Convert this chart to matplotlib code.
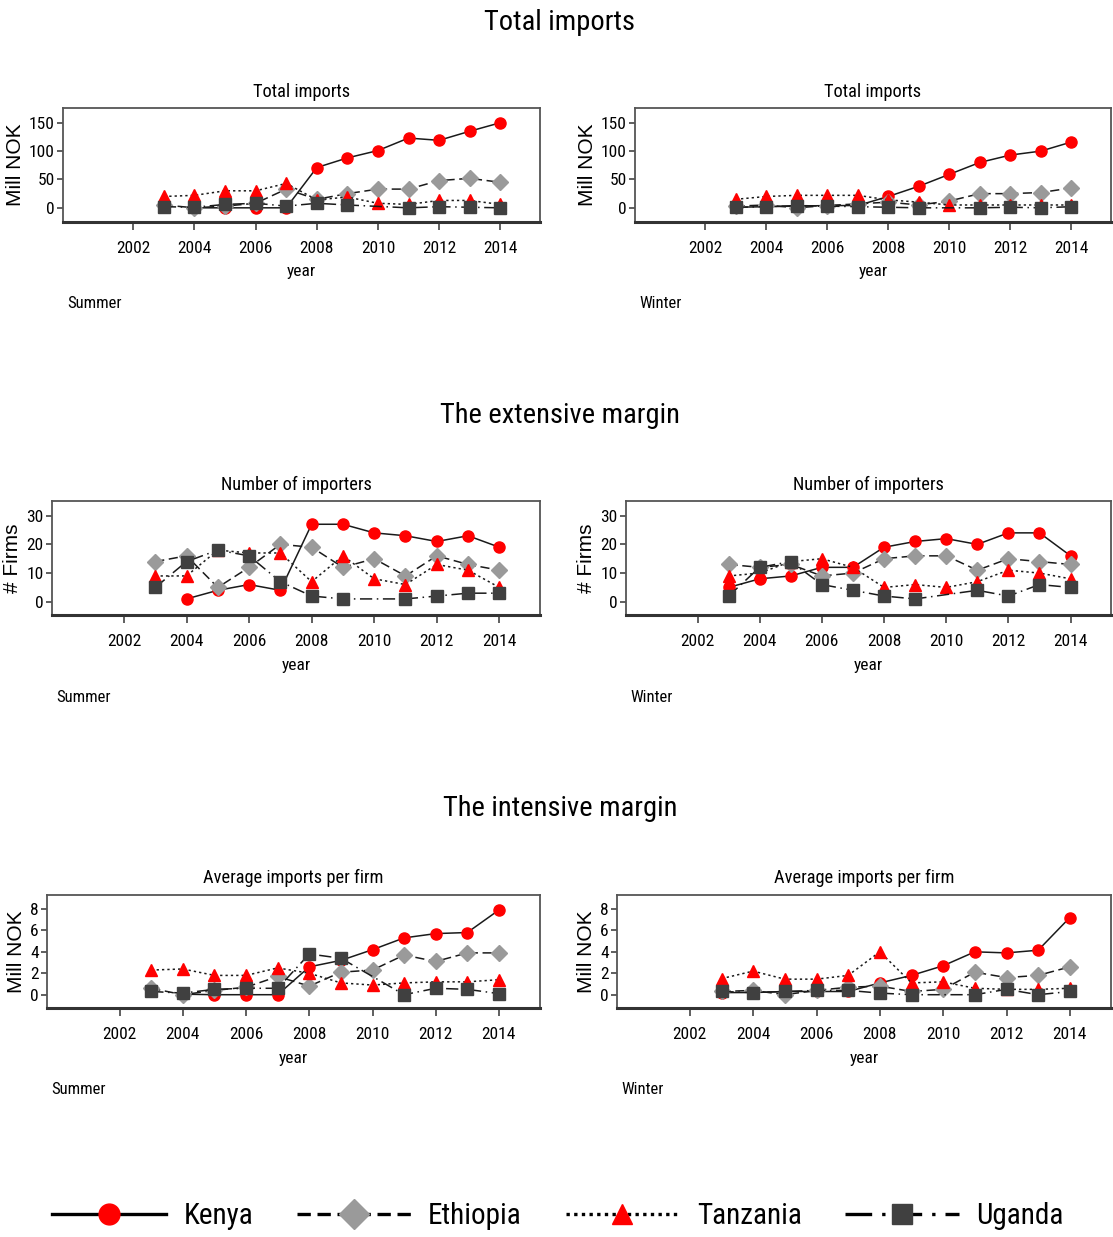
import numpy as np
import matplotlib
matplotlib.use('Agg')
import matplotlib.pyplot as plt
from matplotlib.lines import Line2D
from matplotlib import font_manager as fm

nan = np.nan
years = list(range(2003, 2015))

# Total imports (Mill NOK)
tot_summer = {
    'Kenya':    [nan, 0, 0, 0, 0, 71, 88, 101, 123, 119, 135, 150],
    'Ethiopia': [5, 0, 3, 8, 33, 15, 25, 33, 33, 48, 52, 45],
    'Tanzania': [20, 22, 30, 30, 43, 14, 19, 8, 6, 13, 13, 6],
    'Uganda':   [2, 1, 6, 8, 3, 8, 5, nan, 0, 2, 1, 0],
}
tot_winter = {
    'Kenya':    [1, 2, 3, 4, 4, 20, 38, 59, 80, 93, 100, 116],
    'Ethiopia': [3, 5, 0, 4, 7, 10, 5, 12, 25, 25, 27, 35],
    'Tanzania': [15, 20, 22, 22, 22, 14, 10, 5, 5, 5, 5, 5],
    'Uganda':   [1, 2, 4, 3, 2, 1, 0, nan, 0, 1, 0, 2],
}
# Number of importers (# firms)
firms_summer = {
    'Kenya':    [nan, 1, 4, 6, 4, 27, 27, 24, 23, 21, 23, 19],
    'Ethiopia': [14, 16, 5, 12, 20, 19, 12, 15, 9, 16, 13, 11],
    'Tanzania': [9, 9, 18, 17, 17, 7, 16, 8, 6, 13, 11, 5],
    'Uganda':   [5, 14, 18, 16, 7, 2, 1, nan, 1, 2, 3, 3],
}
firms_winter = {
    'Kenya':    [5, 8, 9, 12, 12, 19, 21, 22, 20, 24, 24, 16],
    'Ethiopia': [13, 12, 13, 9, 10, 15, 16, 16, 11, 15, 14, 13],
    'Tanzania': [9, 10, 14, 15, 12, 5, 6, 5, 7, 11, 10, 8],
    'Uganda':   [2, 12, 14, 6, 4, 2, 1, nan, 4, 2, 6, 5],
}
# Average imports per firm (Mill NOK)
avg_summer = {
    'Kenya':    [nan, 0.05, 0, 0, 0, 2.6, 3.2, 4.2, 5.3, 5.7, 5.8, 7.9],
    'Ethiopia': [0.6, 0, 0.4, 0.7, 1.7, 0.8, 2.1, 2.3, 3.7, 3.1, 3.9, 3.9],
    'Tanzania': [2.3, 2.4, 1.8, 1.8, 2.5, 2.0, 1.1, 0.9, 1.1, 1.2, 1.2, 1.4],
    'Uganda':   [0.3, 0.15, 0.5, 0.6, 0.6, 3.8, 3.4, nan, 0, 0.6, 0.5, 0.1],
}
avg_winter = {
    'Kenya':    [0.2, 0.2, 0.3, 0.3, 0.3, 1.1, 1.8, 2.7, 4.0, 3.9, 4.15, 7.2],
    'Ethiopia': [0.3, 0.4, 0, 0.4, 0.7, 0.8, 0.3, 0.5, 2.1, 1.6, 1.8, 2.6],
    'Tanzania': [1.5, 2.2, 1.45, 1.45, 1.8, 4.0, 1.1, 1.2, 0.6, 0.5, 0.5, 0.6],
    'Uganda':   [0.3, 0.2, 0.3, 0.4, 0.4, 0.15, 0, nan, 0, 0.5, 0, 0.3],
}

countries = ['Kenya', 'Ethiopia', 'Tanzania', 'Uganda']
styles = {
    'Kenya':    dict(marker='o', mfc='#ff0000', ms=8, dashes=()),
    'Ethiopia': dict(marker='D', mfc='#9a9a9a', ms=8, dashes=(6, 3)),
    'Tanzania': dict(marker='^', mfc='#ff0000', ms=8, dashes=(1.5, 2)),
    'Uganda':   dict(marker='s', mfc='#404040', ms=8, dashes=(8, 3, 1, 3)),
}

# pick a narrow face if one is installed (Stata output uses Arial Narrow-ish text)
narrow_family, narrow_stretch, scale = None, 'normal', 1.0
names = {f.name for f in fm.fontManager.ttflist}
for cand in ['Liberation Sans Narrow', 'Arial Narrow', 'Roboto Condensed',
             'Open Sans Condensed', 'DejaVu Sans Condensed', 'Noto Sans Condensed']:
    if cand in names:
        narrow_family = cand
        break
if narrow_family is None:
    for f in fm.fontManager.ttflist:
        if f.stretch in ('condensed', 'semi-condensed', 'extra-condensed') and 'Sans' in f.name:
            narrow_family, narrow_stretch = f.name, f.stretch
            break
if narrow_family is None:
    narrow_family, scale = 'Liberation Sans', 0.85

plt.rcParams['font.family'] = [narrow_family, 'DejaVu Sans']
plt.rcParams['font.stretch'] = narrow_stretch

def fs(v):
    return v * scale

W, H = 1113, 1237
fig = plt.figure(figsize=(W / 100, H / 100), dpi=100)

def px_box(l, t, r, b):
    return [l / W, 1 - b / H, (r - l) / W, (b - t) / H]

def panel(box, data, yticks, ylim, ylabel, title, season, title_y, year_y, season_y):
    ax = fig.add_axes(px_box(*box))
    for c in countries:
        x = np.array(years, dtype=float)
        y = np.array(data[c], dtype=float)
        ok = ~np.isnan(y)
        st = styles[c]
        ls = '-' if not st['dashes'] else (0, st['dashes'])
        ax.plot(x[ok], y[ok], color='#1a1a1a', lw=1.1, linestyle=ls,
                marker=st['marker'], ms=st['ms'], mfc=st['mfc'], mec=st['mfc'])
    ax.set_xlim(1999.7, 2015.3)
    ax.set_ylim(*ylim)
    ax.set_xticks(range(2002, 2015, 2))
    ax.set_yticks(yticks)
    ax.tick_params(axis='x', length=6, width=1.2, pad=8, labelsize=fs(12.5), color='#444444')
    ax.tick_params(axis='y', length=4, width=1.2, pad=2, labelsize=fs(12.5), color='#444444')
    for s in ax.spines.values():
        s.set_color('#555555')
        s.set_linewidth(1.3)
    ax.spines['bottom'].set_linewidth(2.2)
    ax.spines['bottom'].set_color('#333333')
    ax.set_ylabel(ylabel, family=['Liberation Sans', 'DejaVu Sans'], fontstretch='normal',
                  fontsize=15, labelpad=3)
    cx = (box[0] + box[2]) / 2
    fig.text(cx / W, 1 - title_y / H, title, ha='center', va='center', fontsize=fs(13.2))
    fig.text(cx / W, 1 - year_y / H, 'year', ha='center', va='center', fontsize=fs(12.5))
    fig.text((box[0] + 4) / W, 1 - season_y / H, season, ha='left', va='center', fontsize=fs(12))
    return ax

# Row 1: total imports
fig.text(560 / W, 1 - 22 / H, 'Total imports', ha='center', va='center', fontsize=fs(20.5))
panel((63, 108, 540, 222), tot_summer, [0, 50, 100, 150], (-25, 176), 'Mill NOK',
      'Total imports', 'Summer', 92, 272, 304)
panel((635, 108, 1111, 222), tot_winter, [0, 50, 100, 150], (-25, 176), 'Mill NOK',
      'Total imports', 'Winter', 92, 272, 304)

# Row 2: extensive margin
fig.text(560 / W, 1 - 415 / H, 'The extensive margin', ha='center', va='center', fontsize=fs(20.5))
panel((52, 501, 540, 615), firms_summer, [0, 10, 20, 30], (-4.6, 35.1), '# Firms',
      'Number of importers', 'Summer', 485, 665, 697)
panel((626, 501, 1111, 615), firms_winter, [0, 10, 20, 30], (-4.6, 35.1), '# Firms',
      'Number of importers', 'Winter', 485, 665, 697)

# Row 3: intensive margin
fig.text(560 / W, 1 - 808 / H, 'The intensive margin', ha='center', va='center', fontsize=fs(20.5))
panel((47, 895, 540, 1008), avg_summer, [0, 2, 4, 6, 8], (-1.24, 9.3), 'Mill NOK',
      'Average imports per firm', 'Summer', 878, 1058, 1090)
panel((617, 895, 1111, 1008), avg_winter, [0, 2, 4, 6, 8], (-1.24, 9.3), 'Mill NOK',
      'Average imports per firm', 'Winter', 878, 1058, 1090)

# Legend
leg_dashes = {'Kenya': '-', 'Ethiopia': (0, (4, 2)), 'Tanzania': (0, (1, 1.3)),
              'Uganda': (0, (8, 3, 1, 3))}
handles = []
for c in countries:
    st = styles[c]
    handles.append(Line2D([], [], color='black', lw=2.4, linestyle=leg_dashes[c],
                          marker=st['marker'], ms=15, mfc=st['mfc'], mec=st['mfc']))
fig.legend(handles, countries, loc='center', bbox_to_anchor=(558 / W, 1 - 1216 / H),
           ncol=4, frameon=False, fontsize=fs(21), handlelength=3.9 / scale,
           handletextpad=0.6 / scale, columnspacing=1.5 / scale)

fig.savefig('out.png', dpi=100)
